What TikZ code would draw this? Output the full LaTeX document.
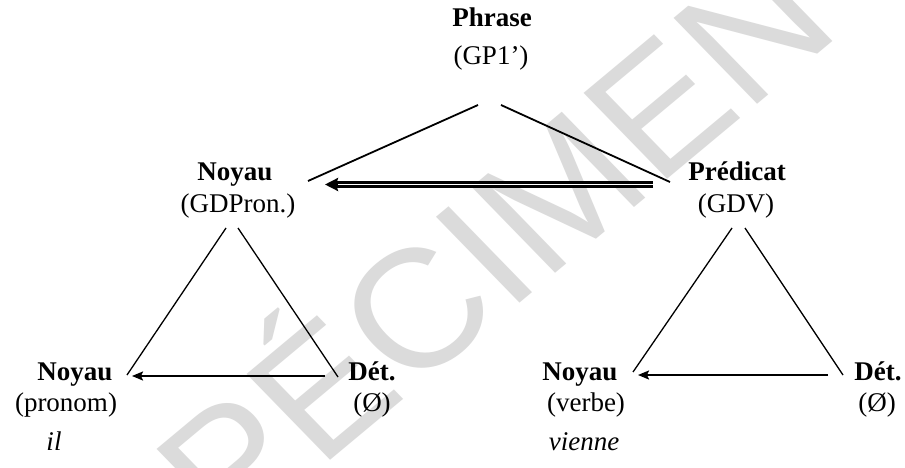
\documentclass[tikz,border=0pt]{standalone}
\usepackage{fontspec}
\setmainfont{Liberation Serif}
\newfontfamily\wmfont{Liberation Sans}
\usetikzlibrary{arrows.meta}
\begin{document}
\begin{tikzpicture}[x=1pt,y=-1pt,
  txt/.style={anchor=base,inner sep=0pt,font=\fontsize{27}{32}\selectfont},
  bold/.style={txt,font=\fontsize{27}{32}\selectfont\bfseries},
  ital/.style={txt,font=\fontsize{27}{32}\selectfont\itshape},
  branch/.style={line width=1.8pt},
  thinbranch/.style={line width=1.3pt},
  arr/.style={line width=1.8pt,-{Stealth[length=11pt,width=9pt,inset=2pt]}},
  dblarr/.style={line width=6.2pt,-{Stealth[length=13pt,width=13pt,inset=2pt]}},
  dblcore/.style={white,line width=1.6pt},
  wm/.style={anchor=base,inner sep=0pt,text=black!14,xscale=1.08,rotate=42,
    font=\wmfont\fontsize{168}{175}\selectfont}]
\useasboundingbox (0,0) rectangle (905,468);
\fill[white] (0,0) rectangle (905,468);
% watermark
\node[wm] (wmark) at (492,326) {SPÉCIMEN};
% texts
\node[bold] (phrase) at (492,27) {Phrase};
\node[txt] (gp) at (491,65) {(GP1’)};
\node[bold] (noyauA) at (235,180) {Noyau};
\node[txt] (gdpron) at (238,212) {(GDPron.)};
\node[bold] (predicat) at (737,180) {Prédicat};
\node[txt] (gdv) at (736,212) {(GDV)};
\node[bold] (noyauB) at (75,380) {Noyau};
\node[txt] (pronom) at (66,411) {(pronom)};
\node[ital] (il) at (54,450) {il};
\node[bold] (detB) at (372,380) {Dét.};
\node[txt] (zeroB) at (372,411) {(Ø)};
\node[bold] (noyauC) at (580,380) {Noyau};
\node[txt] (verbe) at (586,411) {(verbe)};
\node[ital] (vienne) at (584,450) {vienne};
\node[bold] (detC) at (878,380) {Dét.};
\node[txt] (zeroC) at (877,411) {(Ø)};
% connector end points
\coordinate (t1a) at (478,105); \coordinate (t1b) at (308,181);
\coordinate (t2a) at (501,105); \coordinate (t2b) at (670,182);
\coordinate (l1a) at (226,228); \coordinate (l1b) at (127,375);
\coordinate (l2a) at (238,228); \coordinate (l2b) at (338,377);
\coordinate (r1a) at (732,228); \coordinate (r1b) at (633,372);
\coordinate (r2a) at (745,228); \coordinate (r2b) at (843,375);
\coordinate (da) at (653,184.5); \coordinate (db) at (325,184.5);
\coordinate (dc) at (338,184.5);
\coordinate (aa) at (325,376); \coordinate (ab) at (132,376);
\coordinate (ba) at (828,375); \coordinate (bb) at (638,375);
% connectors
\draw[branch] (t1a) -- (t1b);
\draw[branch] (t2a) -- (t2b);
\draw[thinbranch] (l1a) -- (l1b);
\draw[thinbranch] (l2a) -- (l2b);
\draw[thinbranch] (r1a) -- (r1b);
\draw[thinbranch] (r2a) -- (r2b);
\draw[dblarr] (da) -- (db);
\draw[dblcore] (da) -- (dc);
\draw[arr] (aa) -- (ab);
\draw[arr] (ba) -- (bb);
\end{tikzpicture}
\end{document}
